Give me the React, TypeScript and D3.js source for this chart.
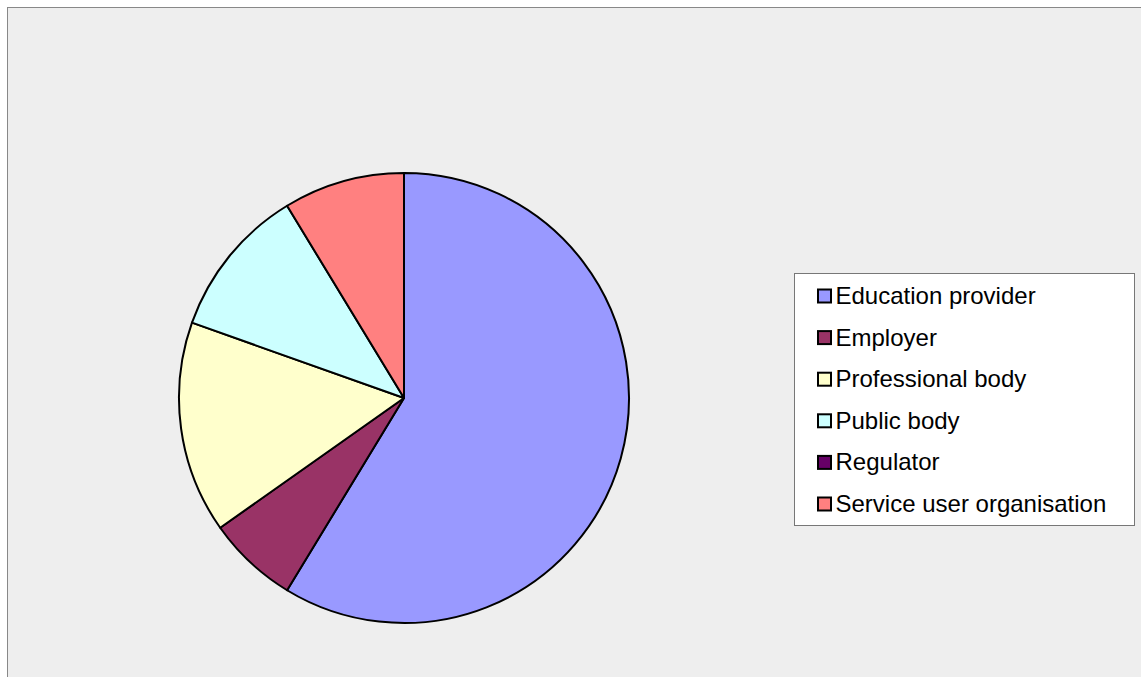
import * as d3 from "d3"
import { useEffect, useRef } from "react"

const categories = [
  "Education provider",
  "Employer",
  "Professional body",
  "Public body",
  "Regulator",
  "Service user organisation",
]
const values = [27, 3, 7, 5, 0, 4]
const colors = ["#9999FF", "#993366", "#FFFFCC", "#CCFFFF", "#660066", "#FF8080"]

const WIDTH = 1141
const HEIGHT = 677

const PieChart = () => {
  const svgRef = useRef<SVGSVGElement>(null)

  useEffect(() => {
    if (!svgRef.current) return
    const svg = d3.select(svgRef.current)
    svg.selectAll("*").remove()

    // chart area frame
    svg
      .append("rect")
      .attr("x", 7.5)
      .attr("y", 7.5)
      .attr("width", WIDTH + 10)
      .attr("height", HEIGHT + 10)
      .attr("fill", "#EEEEEE")
      .attr("stroke", "#888888")
      .attr("stroke-width", 1)

    const data = categories.map((c, i) => ({ name: c, value: values[i], color: colors[i] }))

    const pie = d3
      .pie<{ name: string; value: number; color: string }>()
      .sort(null)
      .value((d) => d.value)
    const arc = d3
      .arc<d3.PieArcDatum<{ name: string; value: number; color: string }>>()
      .innerRadius(0)
      .outerRadius(225)

    const g = svg.append("g").attr("transform", "translate(404, 398)")
    g.selectAll("path")
      .data(pie(data).filter((d) => d.value > 0))
      .join("path")
      .attr("d", arc)
      .attr("fill", (d) => d.data.color)
      .attr("stroke", "#000")
      .attr("stroke-width", 2)
      .attr("stroke-linejoin", "round")

    // legend
    const legend = svg.append("g").attr("transform", "translate(794.5, 273.5)")
    legend
      .append("rect")
      .attr("width", 340)
      .attr("height", 252)
      .attr("fill", "#fff")
      .attr("stroke", "#777")
      .attr("stroke-width", 1)

    const rowY = d3
      .scalePoint<string>()
      .domain(categories)
      .range([22, 230])

    const rows = legend
      .selectAll("g.row")
      .data(data)
      .join("g")
      .attr("class", "row")
      .attr("transform", (d) => `translate(0, ${rowY(d.name)})`)

    rows
      .append("rect")
      .attr("x", 23.5)
      .attr("y", -6)
      .attr("width", 13)
      .attr("height", 13)
      .attr("fill", (d) => d.color)
      .attr("stroke", "#000")
      .attr("stroke-width", 2)

    rows
      .append("text")
      .attr("x", 41)
      .attr("y", 0)
      .attr("dy", "0.35em")
      .attr("font-family", "Liberation Sans, Arial, sans-serif")
      .attr("font-size", "24px")
      .attr("fill", "#000")
      .text((d) => d.name)
  }, [])

  return (
    <svg
      ref={svgRef}
      width={WIDTH}
      height={HEIGHT}
      style={{ position: "absolute", top: 0, left: 0, display: "block", background: "#fff" }}
    />
  )
}

export default function App() {
  return <PieChart />
}
